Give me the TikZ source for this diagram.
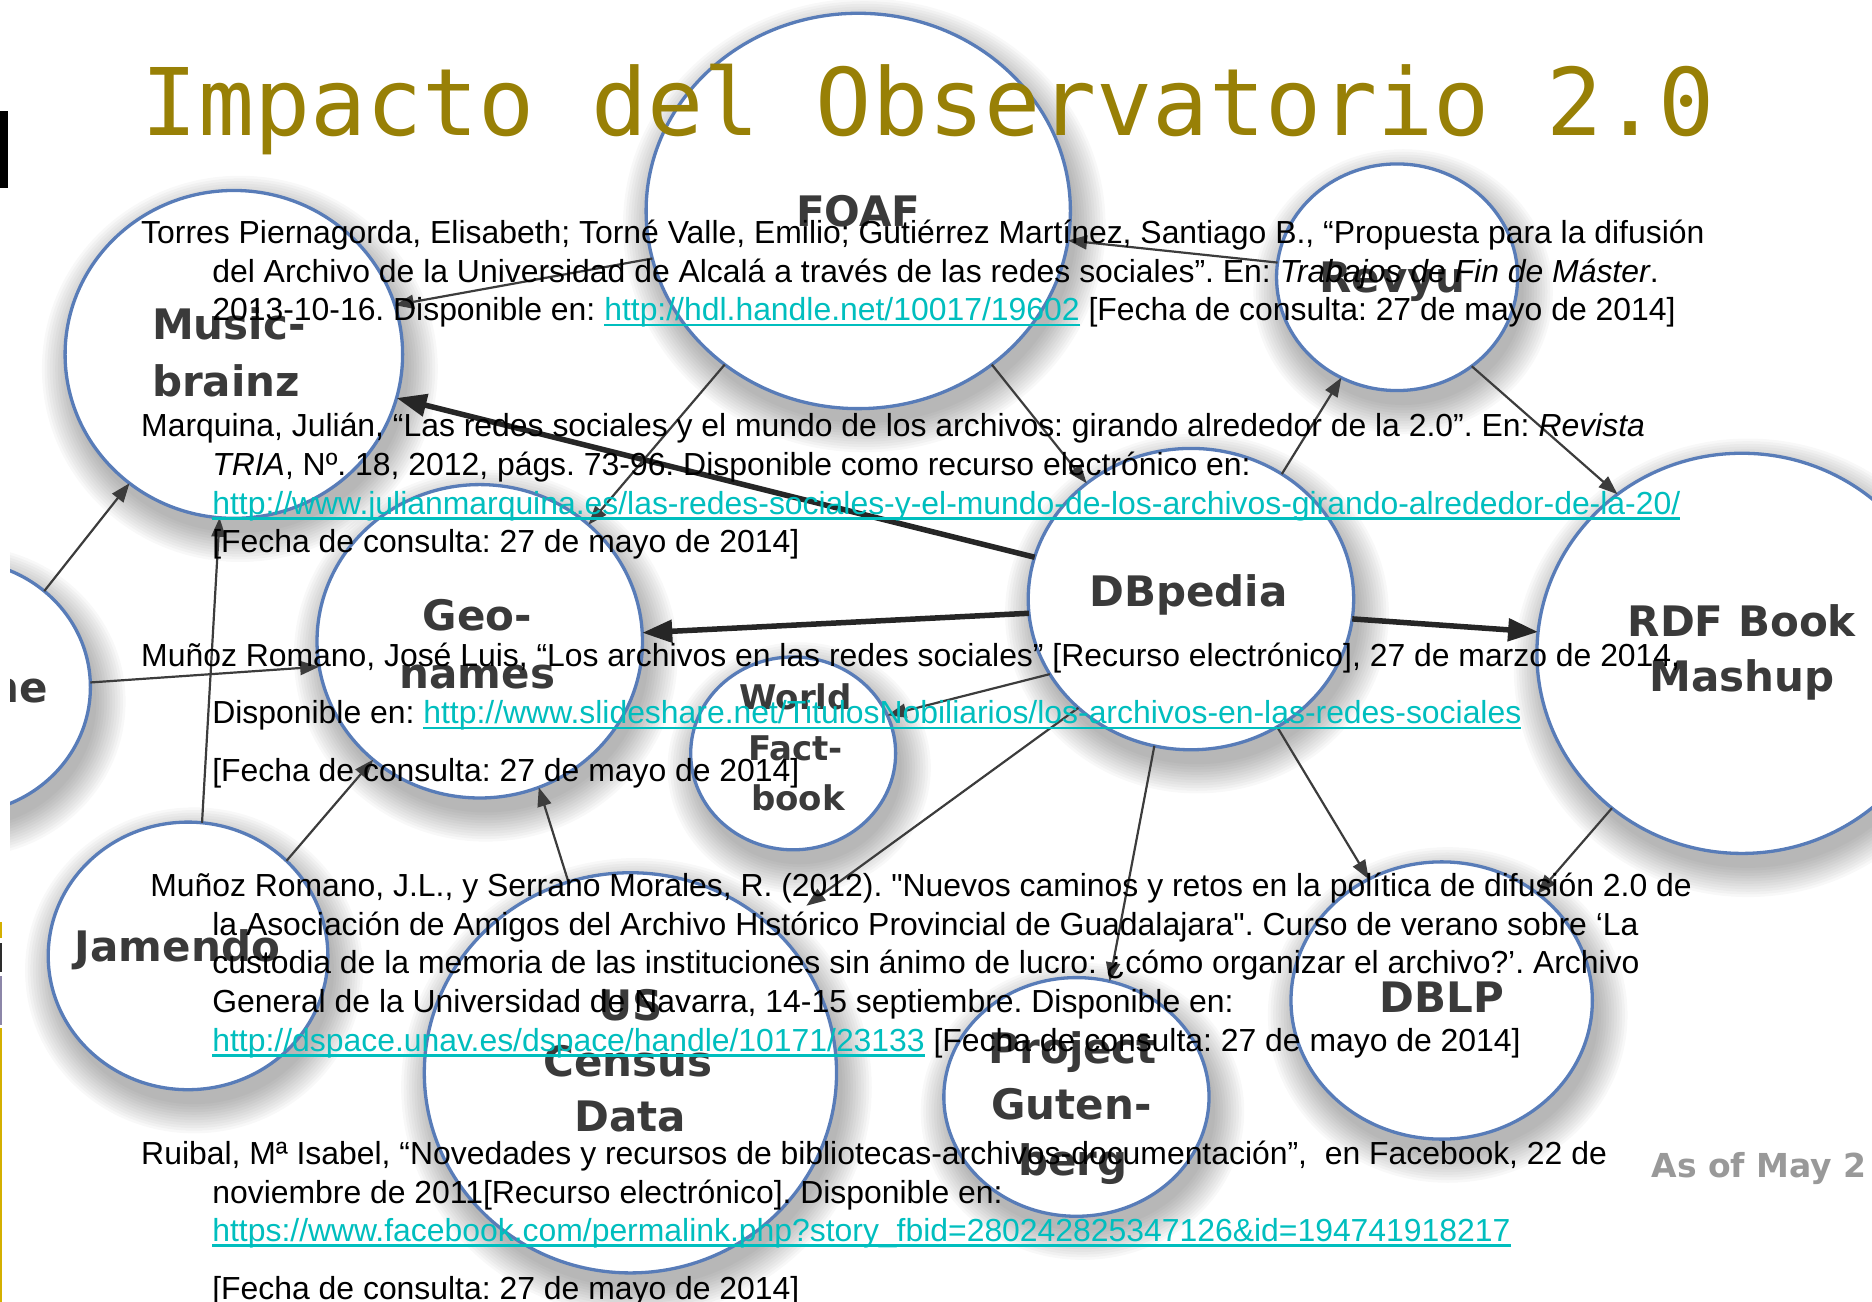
\documentclass[tikz,border=0pt]{standalone}
\usepackage{fontspec}
\setmainfont{Liberation Sans}
\newfontfamily\bodyf{Liberation Sans}
\newfontfamily\titlef{DejaVu Sans Mono}
\newfontfamily\lblf{DejaVu Sans}
\usetikzlibrary{shapes.geometric,arrows.meta}
\definecolor{titleol}{RGB}{152,128,6}
\definecolor{linkc}{RGB}{0,190,190}
\definecolor{circb}{RGB}{88,124,184}
\definecolor{lblc}{RGB}{58,58,58}
\definecolor{edgec}{RGB}{60,60,60}
\definecolor{baryel}{RGB}{212,176,0}
\definecolor{bardark}{RGB}{45,45,45}
\definecolor{barpurp}{RGB}{140,134,168}
\newsavebox\lnkbox
\newcommand\lnk[1]{\sbox\lnkbox{{\color{linkc}#1}}\rlap{{\color{linkc}\rule[-0.17em]{\wd\lnkbox}{0.08em}}}\usebox\lnkbox}
\tikzset{
  circ/.style={ellipse, draw=circb, line width=3.3pt, fill=white, inner sep=0pt, outer sep=0pt},
  thinarr/.style={draw=edgec, line width=2.2pt, -{Triangle[length=19pt,width=14pt]}},
  thickarr/.style={draw=black!85, line width=5.5pt, -{Triangle[length=30pt,width=22pt]}},
  lbl/.style={anchor=base, inner sep=0pt, text=lblc, font=\lblf\bfseries\fontsize{42}{56}\selectfont},
  lbls/.style={anchor=base, inner sep=0pt, text=lblc, font=\lblf\bfseries\fontsize{34}{50}\selectfont},
  txt/.style={anchor=base west, inner sep=0pt, text=black, font=\bodyf\fontsize{31.9}{38}\selectfont\frenchspacing},
}
\def\circs{foaf/712/175/176/164, revyu/1159/230/100/94, mb/194/294/140/136, geo/398/532/135/130, dbp/988/497/135/125, rdf/1445/542/170/166, wf/658/625/85/80, jam/156/793/116/111, cen/523/890/171/166, gut/893/910/110/99, dblp/1196/830/125/115, ne/-35/570/110/105}
\begin{document}
\begin{tikzpicture}[x=1.2054pt,y=-1.2054pt]
\useasboundingbox (0,0) rectangle (1553,1080.1);
\begin{scope}
\clip (8.3,0) rectangle (1553,1080.1);
% shadows
\foreach \n/\cx/\cy/\rx/\ry in \circs {
  \foreach \k in {0,...,11} {
    \fill[black, opacity=0.026] (\cx+5,\cy+12) ellipse [x radius={\rx+2.2*\k}, y radius={\ry+2.2*\k}];
  }
}
% circles
\foreach \n/\cx/\cy/\rx/\ry in \circs {
  \node[circ, minimum width={2.4108pt*\rx}, minimum height={2.4108pt*\ry}] (\n) at (\cx,\cy) {};
}
% connectors
\draw[thinarr] (revyu.173) -- (foaf.-8.5);
\draw[thinarr] (foaf.193) -- (mb.17);
\draw[thickarr] (dbp.165.5) -- (mb.-15);
\draw[thickarr] (dbp.185) -- (geo.3);
\draw[thickarr] (dbp.-7) -- (rdf.174);
\draw[thinarr] (dbp.54) -- (revyu.241);
\draw[thinarr] (foaf.-49) -- (dbp.132);
\draw[thinarr] (foaf.229) -- (geo.47);
\draw[thinarr] (revyu.-50) -- (rdf.128.6);
\draw[thinarr] (dbp.208) -- (wf.22);
\draw[thinarr, shorten >=40pt] (dbp.224) -- (cen.45);
\draw[thinarr] (dbp.256) -- (gut.74);
\draw[thinarr] (dbp.-56.5) -- (dblp.121.5);
\draw[thinarr] (rdf.230) -- (dblp.48);
\draw[thinarr] (jam.44) -- (geo.228);
\draw[thinarr] (jam.84) -- (mb.265);
\draw[thinarr] (ne.48) -- (mb.231);
\draw[thinarr] (ne.2) -- (geo.189);
\draw[thinarr] (cen.108.6) -- (geo.292);
% labels
\node[lbl] (foafL) at (712,188) {FOAF};
\node[lbl] (revyuL) at (1155,243) {Revyu};
\node[lbl, anchor=base west] (mbL1) at (126,282) {Music-};
\node[lbl, anchor=base west] (mbL2) at (126,329) {brainz};
\node[lbl] (geoL1) at (396,523) {Geo-};
\node[lbl] (geoL2) at (396,571) {names};
\node[lbl] (dbpL) at (986,503) {DBpedia};
\node[lbl] (rdfL1) at (1445,528) {RDF Book};
\node[lbl] (rdfL2) at (1445,574) {Mashup};
\node[lbls] (wfL1) at (660,589) {World};
\node[lbls] (wfL2) at (660,631) {Fact-};
\node[lbls] (wfL3) at (662,672) {book};
\node[lbl, anchor=base west] (jamL) at (62,798) {Jamendo};
\node[lbl] (cenL1) at (523,847) {US};
\node[lbl] (cenL2) at (521,893) {Census};
\node[lbl] (cenL3) at (523,939) {Data};
\node[lbl] (gutL1) at (890,882) {Project};
\node[lbl] (gutL2) at (889,929) {Guten-};
\node[lbl] (gutL3) at (890,975) {berg};
\node[lbl] (dblpL) at (1196,840) {DBLP};
\node[lbl, anchor=base east] (neL) at (40,583) {ne};
\node[anchor=base west, inner sep=0pt, text=black!40, font=\lblf\bfseries\fontsize{33}{38}\selectfont] (asof) at (1370,977) {As of May 2};
\end{scope}
% left edge bars
\fill[black] (0,92) rectangle (6.6,156);
\fill[baryel] (0,765) rectangle (1.9,778);
\fill[bardark] (0,782) rectangle (1.9,806);
\fill[barpurp] (0,810) rectangle (1.9,850);
\fill[baryel] (0,853) rectangle (1.9,1080.1);
% title
\node[anchor=base west, inner sep=0pt, text=titleol, font=\titlef\fontsize{93.3}{95}\selectfont] (title) at (117.5,112) {Impacto del Observatorio 2.0};
% references
\node[txt] (p1a) at (117,202) {Torres Piernagorda, Elisabeth; Torné Valle, Emilio; Gutiérrez Martínez, Santiago B., “Propuesta para la difusión};
\node[txt] (p1b) at (176,234) {del Archivo de la Universidad de Alcalá a través de las redes sociales”. En: \textit{Trabajos de Fin de Máster}.};
\node[txt] (p1c) at (176,266) {2013-10-16. Disponible en: \lnk{http://hdl.handle.net/10017/19602} [Fecha de consulta: 27 de mayo de 2014]};
\node[txt] (p2a) at (117,362.5) {Marquina, Julián, “Las redes sociales y el mundo de los archivos: girando alrededor de la 2.0”. En: \textit{Revista}};
\node[txt] (p2b) at (176,394.5) {\textit{TRIA}, Nº. 18, 2012, págs. 73-96. Disponible como recurso electrónico en:};
\node[txt] (p2c) at (176,426.5) {\lnk{http://www.julianmarquina.es/las-redes-sociales-y-el-mundo-de-los-archivos-girando-alrededor-de-la-20/}};
\node[txt] (p2d) at (176,458.5) {[Fecha de consulta: 27 de mayo de 2014]};
\node[txt] (p3a) at (117,553) {Muñoz Romano, José Luis, “Los archivos en las redes sociales” [Recurso electrónico], 27 de marzo de 2014,};
\node[txt] (p3b) at (176,600.5) {Disponible en: \lnk{http://www.slideshare.net/TitulosNobiliarios/los-archivos-en-las-redes-sociales}};
\node[txt] (p3c) at (176,648) {[Fecha de consulta: 27 de mayo de 2014]};
\node[txt] (p4a) at (124.5,744) {Muñoz Romano, J.L., y Serrano Morales, R. (2012). "Nuevos caminos y retos en la política de difusión 2.0 de};
\node[txt] (p4b) at (176,776) {la Asociación de Amigos del Archivo Histórico Provincial de Guadalajara". Curso de verano sobre ‘La};
\node[txt] (p4c) at (176,808) {custodia de la memoria de las instituciones sin ánimo de lucro: ¿cómo organizar el archivo?’. Archivo};
\node[txt] (p4d) at (176,840) {General de la Universidad de Navarra, 14-15 septiembre. Disponible en:};
\node[txt] (p4e) at (176,872) {\lnk{http://dspace.unav.es/dspace/handle/10171/23133} [Fecha de consulta: 27 de mayo de 2014]};
\node[txt] (p5a) at (117,966) {Ruibal, Mª Isabel, “Novedades y recursos de bibliotecas-archivos-documentación”,\ \ en Facebook, 22 de};
\node[txt] (p5b) at (176,998) {noviembre de 2011[Recurso electrónico]. Disponible en:};
\node[txt] (p5c) at (176,1030) {\lnk{https://www.facebook.com/permalink.php?story\_fbid=280242825347126\&id=194741918217}};
\node[txt] (p5d) at (176,1078) {[Fecha de consulta: 27 de mayo de 2014]};
\end{tikzpicture}
\end{document}
